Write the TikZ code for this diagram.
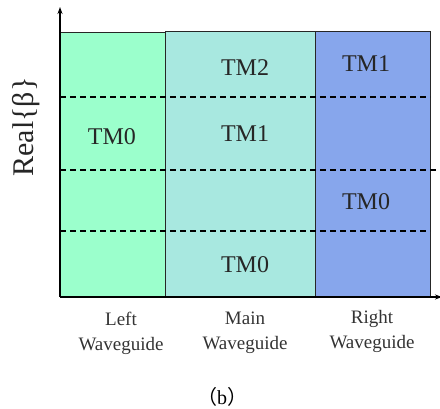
\documentclass[tikz,border=0pt]{standalone}
\usepackage{fontspec}
\setmainfont{Liberation Serif}
\newfontfamily\cjk{Noto Sans CJK SC}
\usetikzlibrary{arrows.meta}
\definecolor{leftc}{RGB}{155,255,204}
\definecolor{mainc}{RGB}{168,232,224}
\definecolor{rightc}{RGB}{135,166,236}
\tikzset{
  region/.style={draw=black!85, line width=1pt},
  mode/.style={font=\fontsize{24}{24}\selectfont, text=black!85},
  lbl/.style={font=\fontsize{19}{25}\selectfont, align=center, text=black!80},
  sep/.style={dashed, dash pattern=on 6pt off 4pt, line width=1.1pt},
  axis/.style={line width=1.6pt, -{Stealth[length=7pt,width=5pt]}}
}
\begin{document}
\begin{tikzpicture}[x=1pt,y=-1pt]
\useasboundingbox (0,0) rectangle (440,409);
\fill[leftc] (60,33) rectangle (165,297);
\fill[mainc] (165,32) rectangle (315,297);
\fill[rightc] (315,32) rectangle (430,297);
\draw[region] (60,33) -- (165,33) -- (165,297);
\draw[region] (165,32) -- (430,32) -- (430,297);
\draw[region] (315,32) -- (315,297);
\draw[sep] (60,97) -- (430,97);
\draw[sep] (60,170) -- (438,170);
\draw[sep] (60,231) -- (430,231);
\coordinate (o) at (60,297);
\coordinate (ytop) at (60,7);
\coordinate (xend) at (442,297);
\draw[axis] (o) -- (ytop);
\draw[axis] (o) -- (xend);
\node[mode] (l0) at (112,137) {TM0};
\node[mode] (m2) at (245,68) {TM2};
\node[mode] (m1) at (245,134) {TM1};
\node[mode] (m0) at (245,265) {TM0};
\node[mode] (r1) at (366,64) {TM1};
\node[mode] (r0) at (366,202) {TM0};
\node[rotate=90, font=\fontsize{30}{30}\selectfont, text=black!85] (yl) at (26,127) {Real\{β\}};
\node[lbl] (ll) at (121,333) {Left\\Waveguide};
\node[lbl] (ml) at (245,333) {Main\\Waveguide};
\node[lbl] (rl) at (372,331) {Right\\Waveguide};
\node[font=\fontsize{20}{20}\selectfont] (cap) at (222,397) {{\cjk （}b{\cjk ）}};
\end{tikzpicture}
\end{document}
